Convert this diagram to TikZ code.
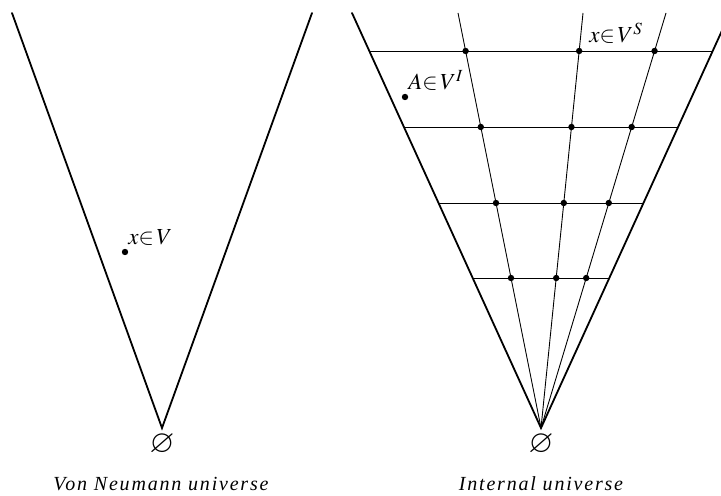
\documentclass[tikz,border=0pt]{standalone}
\usepackage{mathptmx}
\usepackage{amssymb}
\usepackage[no-math]{fontspec}
\setmainfont{Liberation Serif}
\usetikzlibrary{calc}
\tikzset{
  cono/.style={line width=0.9pt, line cap=round},
  malla/.style={line width=0.45pt},
  punto/.style={circle, fill, inner sep=0pt, minimum size=3.2pt},
  rotulo/.style={font=\fontsize{11.5}{13}\selectfont, inner sep=0pt, anchor=base west},
  vacio/.style={font=\fontsize{16}{18}\selectfont, inner sep=0pt},
  leyenda/.style={font=\fontsize{10}{12}\selectfont\itshape\addfontfeatures{LetterSpace=9}, inner sep=0pt, anchor=base},
}

\begin{document}
\begin{tikzpicture}[x=0.5pt, y=-0.5pt]
        \useasboundingbox (0,0) rectangle (721,496);
        \clip (0,0) rectangle (721,496);
        % universo de von Neumann
        \coordinate (vA) at (162,428);
        \coordinate (aL) at (12,13);
        \coordinate (aR) at (312,13);
        \draw[cono] (aL) -- (vA) -- (aR);
        \node[punto] (x) at (125,252) {};
        \node[rotulo] (lx) at (128,245) {$x{\in}\,V$};
        \node[vacio] (eA) at (162,444) {$\varnothing$};
        \node[leyenda] (capA) at (161,490) {Von Neumann universe};
        % universo interno
        \coordinate (vB) at (541,428);
        \coordinate (bL) at (352,13);
        \coordinate (bR) at (730,13);
        \coordinate (r1) at (458,13);
        \coordinate (r2) at (583,13);
        \coordinate (r3) at (666,13);
        \foreach \k in {1,2,3} \draw[malla] (vB) -- (r\k);
        \foreach \y/\n in {51/1,127/2,203/3,278/4} {
          \draw[malla] ($(vB)!{(428-\y)/415}!(bL)$) coordinate (f\n l)
            -- ($(vB)!{(428-\y)/415}!(bR)$) coordinate (f\n r);
          \foreach \k in {1,2,3}
            \node[punto] (p\n\k) at ($(vB)!{(428-\y)/415}!(r\k)$) {};
        }
        \draw[cono] (bL) -- (vB) -- (bR);
        \node[punto] (A) at (405,97) {};
        \node[rotulo] (lA) at (408,90) {$A{\in}\,V^{I}$};
        \node[rotulo] (lxs) at (589,43) {$x{\in}\,V^{S}$};
        \node[vacio] (eB) at (541,444) {$\varnothing$};
        \node[leyenda] (capB) at (541,490) {Internal universe};
    \end{tikzpicture}
\end{document}
